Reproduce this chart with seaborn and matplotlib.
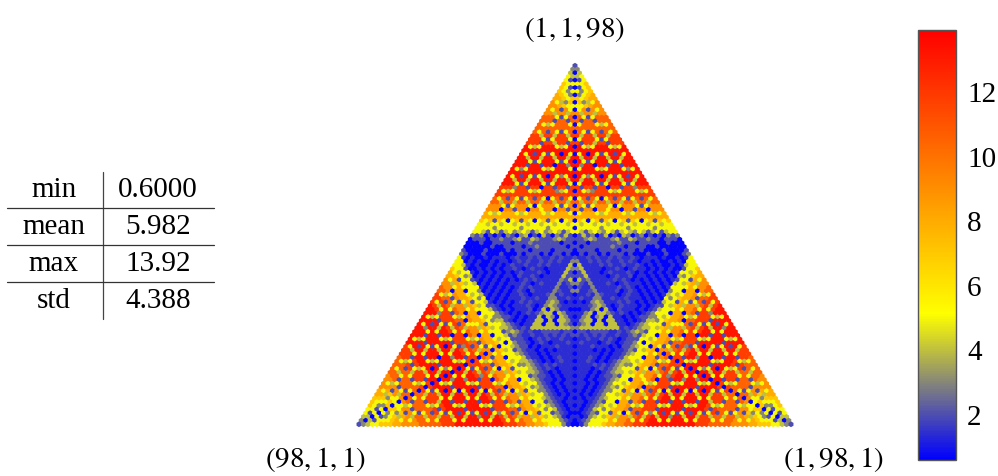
from __future__ import annotations

import matplotlib
import matplotlib.pyplot as plt
import pandas as pd
import seaborn as sns
from matplotlib.cm import ScalarMappable
from matplotlib.colors import LinearSegmentedColormap, Normalize

matplotlib.use("Agg")

# colour classes
LEVELS = {
    "b": 0.7, "c": 1.4, "g": 2.0, "h": 3.0, "k": 4.0, "y": 5.0, "u": 6.0,
    "a": 7.0, "n": 8.0, "o": 9.0, "d": 10.5, "e": 11.8, "r": 13.2,
}

# one corner triangle, tip to base, edge to mirror axis (the picture repeats it at all three corners)
TOP_ROWS = [
    "g", "h", "kb", "yk", "ygb", "ayy", "aygb", "ayhy", "nayhb", "nnaya",
    "oykhab", "oonayy",
    "oyogoyb", "ookooko", "dddygydb", "dddgddgd", "dykydddyb", "ddddddddd",
    "dydgdygydb", "eekeekeeke", "eeeygyeeeyb", "eeegeekeege", "rykyrrrykyrb", "rrrrrrrrrrrr",
    "ryrgrygyrbryb", "rrkrrkrrkrrkr", "rrrygyrrrygyrb", "rrrgrrgrrbrrhr", "ryhyrrrykyrrryb",
    "rrrrrrrrrrrrrrr", "ryrgrygyrbryhyrb", "rrkrrkrrkrrkrrkr", "rrrygyrrrygyrrryb",
    "eeeheegeebeegeege", "eykyeeeykyeeehkyeb", "eeeeeeeeeeeeeeeeee", "dydgdygydgdybydgdyb",
    "ddkddkddkddkddkddkd", "oooygyoooybyoooygyob", "oooboogoobooyooboogo",
    "nykynnnykynnnykynnnyb", "nnnnnnnnnnnnnnnnnnnnn", "ayagaybyagaybyagaybyab",
    "yykyykyykyykyykyykyyky", "yyyyhyyyyyhyyyyyhyyyyyb", "yykgykgkyhkykgkyhkykgky",
]

# central blue region, rows 46 to 97, inner left edge to mirror axis
CENTER_ROWS = [
    "hghbgbgbhgbhkbgbkgbhgkgb", "bgggbgghgghkggkhggghkhgg", "bbbgbbggggbggghggggggbggb",
    "bbbbbbgbbggggbgghggggggbg", "gbbbbgbbbbgbgggbggggbggggb", "hgbbbgbbbgbbbgbgggbgbggbgb",
    "cbcbbcbcccbcgccgcgccgcgcc" "g",
    "bcbcbbcbccbcgcgccgcgcgcc" "h",
    "cbcbbcbcbcgccgccgcgcccc" "kb",
    "bbcbcbcbccgcbcgccbcccc" "kh",
    "cbcbcbcbcbcgcccgcbccc" "kgb",
    "bcbcbcbccbgccgcbcccc" "kgg",
    "cbcbcbcbcbcgcgccccc" "hgkb",
    "bcbcbcbcccgcbcgccc" "hcgh",
    "cbcbcbcbcgcgccccc" "hccgb",
    "bcbcbcbcgcbgcccc" "hgcch",
    "cbcbcbccgcbcccg" "hcgccb",
    "bcbcbcccgccgcc" "hhccgc",
    "cbcbcbcgcgccc" "hkhcbcb",
    "gcbcbcccgcbc" "hkhgccc",
    "gcbcbcccgbc" "kbkhccbb",
    "hgcbcbcgcg" "hkkbkhcc",
    "hggcbcbcc" "kbkhbkhcb",
    "kgcbcbcc" "kkbkbkkhc",
    "khgcbcc" "kkbkkbkhgb",
    "khgcgc" "kkkkkkkkkh",
    "hkhgcgccggggcggb", "ghgccgccgcgcgcg",
    "gggcbcgcgccgccb", "hggcbcgcbcccgc", "hggbcbcccgcccb", "hgccbcbcbcccc",
    "hgccbcbcccccb", "kgccbcbcgccc", "khgcbcbcgccb", "khgcgcgcccc", "khgcgcbcccb",
    "khgcbcbccc", "hggcbcbccb", "hgccbcbcc", "hgcbcbccb", "hgcbcbcc", "hgcbcbcb",
    "hgcbcbc", "hgccbcb", "hgcbcc", "hgcbcb", "kgcbc", "hgcbb", "hcbc", "hgcb", "hcb",
]

VMIN = 0.6
VMAX = 13.92
CBAR_TICKS = [2, 4, 6, 8, 10, 12]
STATS_NAMES = ["min", "mean", "max", "std"]
STATS_VALUES = ["0.6000", "5.982", "13.92", "4.388"]
CORNER_LABELS = ["$(1,1,98)$", "$(98,1,1)$", "$(1,98,1)$"]

N = 97
W, H = 998, 476


def build_frame() -> pd.DataFrame:
    records = []
    for r in range(N + 1):
        for j in range(r + 1):
            a, b, c = r - j, j, N - r
            if max(a, b, c) >= 52:
                code = TOP_ROWS[N - max(a, b, c)][min(a, b, c)]
            else:
                start = max(0, r - 51)
                code = CENTER_ROWS[r - 46][min(j, r - j) - start]
            records.append({"x": b + c / 2, "y": c, "value": LEVELS[code]})
    return pd.DataFrame(records)


def pixel_axes(fig, left, top, right, bottom):
    return fig.add_axes([left / W, 1 - bottom / H, (right - left) / W, (bottom - top) / H])


def main() -> None:
    sns.set_theme(style="white")
    plt.rcParams["font.family"] = ["Liberation Serif", "DejaVu Serif"]
    plt.rcParams["mathtext.fontset"] = "stix"

    cmap = LinearSegmentedColormap.from_list("byr", [(0, "#0000ff"), (0.34, "#ffff00"), (1, "#ff0000")])
    fig = plt.figure(figsize=(W / 100, H / 100), dpi=100)

    ax = pixel_axes(fig, 359, 65.7, 791, 424.3)
    sns.scatterplot(
        data=build_frame(),
        x="x",
        y="y",
        hue="value",
        palette=cmap,
        hue_norm=(VMIN, VMAX),
        marker="h",
        s=17,
        linewidth=0,
        legend=False,
        clip_on=False,
        ax=ax,
    )
    ax.set_xlim(0, N)
    ax.set_ylim(0, N)
    ax.axis("off")

    cax = pixel_axes(fig, 918, 30, 956, 460)
    cbar = fig.colorbar(ScalarMappable(Normalize(VMIN, VMAX), cmap), cax=cax, ticks=CBAR_TICKS)
    cbar.outline.set_edgecolor("#555555")
    cbar.outline.set_linewidth(1.0)
    cax.tick_params(axis="y", direction="in", left=True, right=True, length=8, width=0.8,
                    color="#808080", labelsize=21, pad=8, labelcolor="black")

    over = fig.add_axes([0, 0, 1, 1])
    over.set_xlim(0, W)
    over.set_ylim(H, 0)
    over.axis("off")
    over.patch.set_alpha(0)

    over.text(575, 30, CORNER_LABELS[0], fontsize=21, ha="center", va="center", color="black")
    over.text(316, 460, CORNER_LABELS[1], fontsize=21, ha="center", va="center", color="black")
    over.text(834, 460, CORNER_LABELS[2], fontsize=21, ha="center", va="center", color="black")

    for i, (name, value) in enumerate(zip(STATS_NAMES, STATS_VALUES)):
        row_y = 190 + i * 37
        over.text(54, row_y, name, fontsize=21, ha="center", va="center", color="black")
        over.text(158, row_y, value, fontsize=21, ha="center", va="center", color="black")
    over.plot([103, 103], [172, 319], color="#444444", lw=0.9)
    for line_y in [208, 245, 282]:
        over.plot([7, 214], [line_y, line_y], color="#333333", lw=0.9)

    fig.savefig("out.png", dpi=100)
    plt.close(fig)


if __name__ == "__main__":
    main()
